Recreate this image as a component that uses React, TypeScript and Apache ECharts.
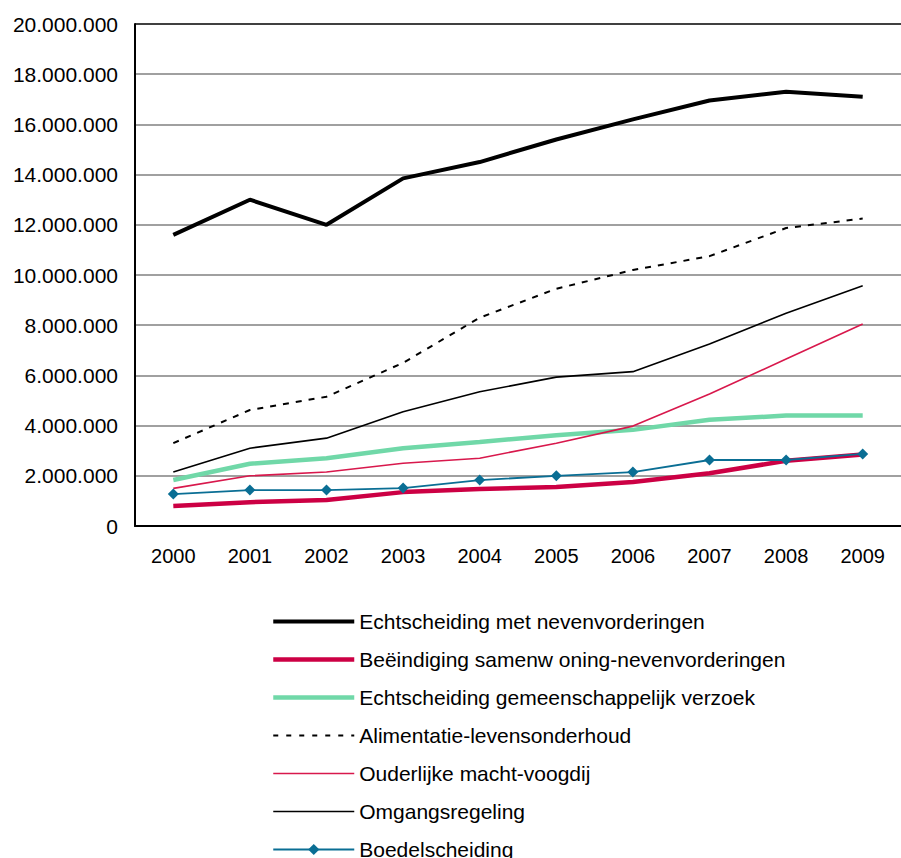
import React, { useEffect, useRef } from "react";
import * as echarts from "echarts";

const years = ["2000", "2001", "2002", "2003", "2004", "2005", "2006", "2007", "2008", "2009"];

const echtscheidingNeven = [11600000, 13000000, 12000000, 13850000, 14500000, 15400000, 16200000, 16950000, 17300000, 17100000];
const beeindigingSamenwoning = [800000, 950000, 1040000, 1350000, 1470000, 1550000, 1750000, 2100000, 2600000, 2850000];
const echtscheidingGemeenschappelijk = [1830000, 2480000, 2700000, 3100000, 3350000, 3620000, 3830000, 4230000, 4400000, 4400000];
const alimentatie = [3300000, 4620000, 5150000, 6500000, 8300000, 9450000, 10200000, 10750000, 11870000, 12250000];
const ouderlijkeMacht = [1500000, 2000000, 2150000, 2500000, 2700000, 3300000, 3980000, 5260000, 6650000, 8050000];
const omgangsregeling = [2150000, 3100000, 3500000, 4550000, 5350000, 5930000, 6150000, 7250000, 8480000, 9570000];
const boedelscheiding = [1270000, 1430000, 1430000, 1510000, 1830000, 2000000, 2150000, 2630000, 2630000, 2870000];

const seriesNames = [
  "Echtscheiding met nevenvorderingen",
  "Beëindiging samenw oning-nevenvorderingen",
  "Echtscheiding gemeenschappelijk verzoek",
  "Alimentatie-levensonderhoud",
  "Ouderlijke macht-voogdij",
  "Omgangsregeling",
  "Boedelscheiding",
];

const FONT = "'Liberation Sans', Arial, sans-serif";

function fmt(v: number): string {
  return String(Math.round(v)).replace(/\B(?=(\d{3})+(?!\d))/g, ".");
}

export default function App() {
  const ref = useRef<HTMLDivElement>(null);
  useEffect(() => {
    if (!ref.current) return;
    const chart = echarts.init(ref.current, null, { renderer: "svg" });
    const line = (name: string, data: number[], color: string, width: number, extra: any = {}) => ({
      name,
      type: "line",
      data,
      symbol: "none",
      lineStyle: { color, width, type: "solid" },
      itemStyle: { color },
      emphasis: { disabled: true },
      ...extra,
    });
    const gridColors = ["#808080", "#808080", "#808080", "#808080", "#808080", "#808080", "#808080", "#808080", "#808080", "#808080", "#000000"];
    const legendItem = (name: string, width: number, type: any = "solid") => ({
      name,
      itemStyle: { opacity: 0 },
      lineStyle: { width, type },
    });
    chart.setOption({
      animation: false,
      textStyle: { fontFamily: FONT },
      grid: { left: 135, top: 24, right: -13, bottom: 332, containLabel: false },
      xAxis: {
        type: "category",
        data: years,
        boundaryGap: true,
        axisLine: { lineStyle: { color: "#000", width: 2 } },
        axisTick: { show: false },
        axisLabel: { color: "#000", fontSize: 20, fontFamily: FONT, margin: 20 },
      },
      yAxis: {
        type: "value",
        min: 0,
        max: 20000000,
        interval: 2000000,
        axisLine: { show: true, lineStyle: { color: "#000", width: 2 } },
        axisTick: { show: false },
        axisLabel: { color: "#000", fontSize: 21, fontFamily: FONT, margin: 17, formatter: (v: number) => fmt(v) },
        splitLine: { show: true, lineStyle: { color: gridColors, width: 1.5 } },
      },
      legend: {
        orient: "vertical",
        left: 266,
        top: 606,
        height: 400,
        itemWidth: 81,
        itemHeight: 14,
        itemGap: 17,
        textStyle: { color: "#000", fontSize: 21, fontFamily: FONT },
        data: [
          legendItem(seriesNames[0], 4),
          legendItem(seriesNames[1], 4.5),
          legendItem(seriesNames[2], 4.5),
          legendItem(seriesNames[3], 2, [5, 8]),
          legendItem(seriesNames[4], 1.6),
          legendItem(seriesNames[5], 1.6),
          { name: seriesNames[6] },
        ],
        selectedMode: false,
      },
      series: [
        line(seriesNames[0], echtscheidingNeven, "#000000", 4, { z: 8 }),
        line(seriesNames[1], beeindigingSamenwoning, "#cc0044", 4.5, { z: 3 }),
        line(seriesNames[2], echtscheidingGemeenschappelijk, "#70d8a8", 4.5, { z: 2 }),
        line(seriesNames[3], alimentatie, "#000000", 2, { lineStyle: { color: "#000", width: 2, type: [6, 7] } }),
        line(seriesNames[4], ouderlijkeMacht, "#d8184c", 1.6),
        line(seriesNames[5], omgangsregeling, "#000000", 1.6),
        line(seriesNames[6], boedelscheiding, "#0a6e94", 1.8, {
          symbol: "diamond",
          symbolSize: 11,
          z: 5,
        }),
      ],
    });
    return () => chart.dispose();
  }, []);
  return (
    <div
      ref={ref}
      style={{ position: "absolute", left: 0, top: 0, width: 901, height: 858, background: "#fff" }}
    />
  );
}
